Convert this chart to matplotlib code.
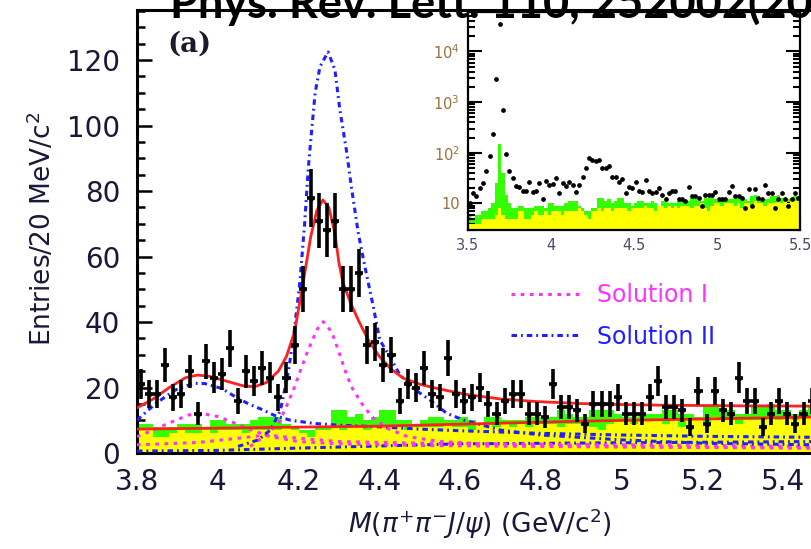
import numpy as np
import matplotlib.pyplot as plt
from matplotlib.ticker import MultipleLocator, FixedLocator, FixedFormatter, LogLocator, NullFormatter

plt.rcParams['mathtext.fontset'] = 'dejavusans'

# 20 MeV/c^2 bins between 3.5 and 5.5 GeV/c^2
edges = np.round(np.arange(3.50, 5.5001, 0.02), 2)
centers = np.round(0.5 * (edges[:-1] + edges[1:]), 2)

# data, entries per bin
entries = [10, 16, 14, 20, 25, 44, 87, 230, 2900, 35000, 700, 94, 44, 32, 22,
           21, 18, 18, 27, 17, 18, 25, 12, 28, 23,
           24, 32, 16, 25, 22, 26, 23, 17, 23, 33,
           50, 78, 71, 68, 71, 50, 50, 55, 33, 34,
           27, 30, 16, 21, 20, 26, 18, 17, 29, 18,
           16, 17, 20, 15, 12, 16, 18, 18, 12, 12,
           11, 21, 14, 14, 13, 9, 15, 15, 15, 17,
           12, 12, 12, 17, 22, 14, 14, 13, 8, 19,
           9, 19, 13, 12, 23, 16, 16, 8, 12, 16,
           12, 9, 12, 16, 13]

# J/psi sideband (green) and the second background estimate (yellow)
sideband = [6, 5, 6, 6, 7, 7, 8, 10, 25, 150, 40, 15, 10, 8, 8,
            9, 9, 8, 8, 8, 9, 9, 9, 8, 10,
            10, 9, 9, 9, 10, 11, 11, 11, 9, 8,
            7, 7, 8, 8, 13, 13, 11, 12, 10, 11,
            13, 13, 10, 10, 9, 10, 11, 11, 10, 10,
            11, 10, 9, 11, 11, 10, 10, 10, 11, 11,
            11, 11, 13, 12, 11, 11, 13, 13, 13, 12,
            11, 11, 12, 12, 12, 13, 13, 12, 12, 11,
            14, 15, 13, 13, 12, 12, 14, 14, 15, 13,
            13, 12, 13, 14, 14]
other_bkg = [4, 4, 4, 4, 5, 5, 5, 5, 6, 8, 6, 5, 5, 5, 5,
             7, 7, 5, 5, 6, 7, 6, 6, 7, 6,
             7, 7, 7, 6, 7, 7, 7, 7, 8, 7,
             6, 5, 7, 7, 8, 7, 8, 8, 7, 8,
             8, 8, 8, 7, 8, 8, 8, 8, 9, 8,
             8, 7, 9, 9, 8, 9, 8, 9, 8, 9,
             9, 9, 8, 9, 9, 10, 8, 7, 9, 10,
             10, 9, 10, 10, 10, 9, 10, 8, 10, 10,
             9, 11, 10, 10, 9, 10, 10, 10, 11, 10,
             11, 10, 11, 11, 11]

# fit curves
fit_x = [3.80, 3.84, 3.88, 3.92, 3.95, 3.98, 4.02, 4.06, 4.09, 4.12, 4.15, 4.17, 4.19,
         4.21, 4.23, 4.245, 4.26, 4.275, 4.29, 4.30, 4.31, 4.33, 4.35, 4.375, 4.40, 4.43,
         4.46, 4.50, 4.55, 4.62, 4.70, 4.79, 4.90, 5.00, 5.10, 5.20, 5.30, 5.48]
fit_y = [13.8, 16.5, 20.0, 23.0, 23.8, 23.4, 22.0, 20.6, 20.2, 21.5, 25.0, 29.5, 37.0,
         51.0, 66.0, 74.0, 77.3, 75.0, 67.0, 58.0, 52.0, 45.5, 40.0, 34.0, 29.5, 25.5,
         22.8, 21.0, 19.5, 17.8, 16.5, 15.7, 15.1, 14.8, 14.6, 14.5, 14.4, 14.3]
bkg_x = [3.80, 4.40, 4.93, 5.48]
bkg_y = [7.3, 8.2, 9.8, 11.0]

# Solution I components
sol1_peak_x = [4.08, 4.125, 4.15, 4.166, 4.187, 4.208, 4.224, 4.245, 4.261, 4.282, 4.298,
               4.315, 4.331, 4.356, 4.381, 4.42, 4.47, 4.55, 4.70, 5.00, 5.48]
sol1_peak_y = [2.0, 6.0, 9.1, 13.1, 19.2, 26.4, 31.5, 37.6, 40.1, 37.0, 31.5,
               25.3, 20.2, 15.2, 11.1, 7.5, 5.0, 3.5, 2.5, 2.0, 1.5]
sol1_low_x = [3.80, 3.84, 3.878, 3.927, 3.96, 4.001, 4.043, 4.084, 4.13, 4.20, 4.30, 4.50, 5.00, 5.48]
sol1_low_y = [5.0, 7.0, 9.1, 11.6, 12.1, 11.1, 9.1, 7.0, 5.0, 3.5, 2.8, 2.3, 1.8, 1.5]
sol1_int_x = [3.80, 3.95, 4.05, 4.12, 4.20, 4.30, 4.50, 5.00, 5.48]
sol1_int_y = [2.5, 3.2, 4.5, 5.5, 4.5, 3.5, 3.0, 2.5, 2.0]

# Solution II components
sol2_peak_x = [4.05, 4.10, 4.13, 4.155, 4.175, 4.19, 4.203, 4.215, 4.224, 4.232, 4.241,
               4.253, 4.273, 4.29, 4.302, 4.319, 4.331, 4.348, 4.364, 4.385, 4.401, 4.426,
               4.451, 4.484, 4.525, 4.567, 4.608, 4.70, 4.80, 5.00, 5.20, 5.48]
sol2_peak_y = [2.0, 4.0, 7.0, 13.0, 25.0, 38.0, 52.0, 70.0, 87.0, 98.0, 110.0,
               118.0, 122.5, 117.0, 105.0, 92.0, 81.0, 67.0, 57.0, 44.7, 34.5, 29.4,
               23.8, 19.7, 16.2, 12.1, 10.1, 7.0, 5.5, 4.0, 3.0, 2.5]
sol2_low_x = [3.80, 3.845, 3.894, 3.94, 3.968, 4.01, 4.043, 4.076, 4.109, 4.14, 4.18,
              4.24, 4.30, 4.40, 4.50, 4.60, 4.80, 5.00, 5.20, 5.48]
sol2_low_y = [10.0, 15.0, 19.2, 21.3, 21.2, 19.7, 17.2, 15.0, 13.3, 11.5, 10.0,
              9.0, 8.5, 8.0, 7.3, 6.8, 6.0, 5.5, 5.1, 4.8]
sol2_int_x = [3.80, 4.00, 4.20, 4.60, 5.48]
sol2_int_y = [0.6, 0.8, 1.5, 2.8, 3.5]

RED = '#ff2020'
BLUE = '#2020ff'
MAGENTA = '#ff30ff'
GREEN = '#33ff00'
YELLOW = '#ffff00'
LABEL = '#181838'

dot = (0, (1.2, 1.8))
dashdot = (0, (1.8, 1.3, 0.6, 1.3))

fig = plt.figure(figsize=(8.12, 5.49), dpi=100)
ax = fig.add_axes([137 / 812, 96 / 549, 675 / 812, 443 / 549])

ax.stairs(sideband, edges, fill=True, color=GREEN, zorder=1)
ax.stairs(other_bkg, edges, fill=True, color=YELLOW, zorder=2)

ax.plot(sol2_int_x, sol2_int_y, color=BLUE, lw=2.2, ls=dashdot, zorder=3)
ax.plot(sol1_int_x, sol1_int_y, color=MAGENTA, lw=2.2, ls=dot, zorder=3)
ax.plot(sol2_low_x, sol2_low_y, color=BLUE, lw=2.2, ls=dashdot, zorder=3)
ax.plot(sol1_low_x, sol1_low_y, color=MAGENTA, lw=2.2, ls=dot, zorder=3)
l1, = ax.plot(sol1_peak_x, sol1_peak_y, color=MAGENTA, lw=2.2, ls=dot, zorder=3,
              label='Solution I')
l2, = ax.plot(sol2_peak_x, sol2_peak_y, color=BLUE, lw=2.2, ls=dashdot, zorder=3,
              label='Solution II')
ax.plot(bkg_x, bkg_y, color=RED, lw=2.0, zorder=4)
ax.plot(fit_x, fit_y, color=RED, lw=2.0, zorder=4)

ax.errorbar(centers, entries, yerr=np.sqrt(entries), xerr=0.01, fmt='o', color='black',
            ms=3, elinewidth=2.6, capsize=0, zorder=5)

ax.set_xlim(3.8, 5.471)
ax.set_ylim(0, 135.3)
ax.spines['right'].set_visible(False)
for s in ['left', 'bottom', 'top']:
    ax.spines[s].set_linewidth(2.2)
ax.xaxis.set_major_locator(FixedLocator([3.8, 4.0, 4.2, 4.4, 4.6, 4.8, 5.0, 5.2, 5.4]))
ax.xaxis.set_major_formatter(FixedFormatter(['3.8', '4', '4.2', '4.4', '4.6', '4.8', '5', '5.2', '5.4']))
ax.xaxis.set_minor_locator(MultipleLocator(0.05))
ax.yaxis.set_major_locator(MultipleLocator(20))
ax.yaxis.set_minor_locator(MultipleLocator(5))
ax.tick_params(which='both', direction='in', width=1.8, labelsize=20, labelcolor=LABEL)
ax.tick_params(which='major', length=11)
ax.tick_params(which='minor', length=6)
ax.tick_params(axis='y', pad=12)
ax.tick_params(axis='x', pad=11)

fig.text(42 / 812, 1 - 229 / 549, 'Entries/20 MeV/c$^2$', rotation=90, fontsize=19,
         color=LABEL, ha='center', va='center')
fig.text(480 / 812, 1 - 524 / 549, r'$M(\pi^{+}\pi^{-}J/\psi)$ (GeV/c$^2$)', fontsize=19,
         color=LABEL, ha='center', va='center')
fig.text(167 / 812, 1 - 44 / 549, '(a)', fontsize=20, fontweight='bold',
         family='DejaVu Serif', color='#1a1a2a', ha='left', va='center')

leg = ax.legend(handles=[l1, l2], loc='upper left', frameon=False, fontsize=17,
                handlelength=2.9, handletextpad=0.75, labelspacing=0.75,
                borderpad=0, borderaxespad=0, labelcolor='linecolor',
                bbox_to_anchor=(511 / 812, 1 - 283 / 549), bbox_transform=fig.transFigure)

# inset: same spectrum on a log scale over the wider range
ins = fig.add_axes([468 / 812, 319 / 549, 332 / 812, 218 / 549])
ins.stairs(sideband, edges, fill=True, color=GREEN, baseline=0.1, zorder=1)
ins.stairs(other_bkg, edges, fill=True, color=YELLOW, baseline=0.1, zorder=2)
ins.plot(centers, entries, 'o', color='black', ms=2.4, zorder=3)
ins.set_yscale('log')
ins.set_xlim(3.5, 5.5)
ins.set_ylim(3, 6e4)
for s in ins.spines.values():
    s.set_linewidth(1.6)
ins.xaxis.set_major_locator(FixedLocator([3.5, 4.0, 4.5, 5.0, 5.5]))
ins.xaxis.set_major_formatter(FixedFormatter(['3.5', '4', '4.5', '5', '5.5']))
ins.xaxis.set_minor_locator(MultipleLocator(0.1))
ins.yaxis.set_major_locator(FixedLocator([10, 100, 1000, 10000]))
ins.yaxis.set_major_formatter(FixedFormatter(['10', '$10^2$', '$10^3$', '$10^4$']))
ins.yaxis.set_minor_locator(LogLocator(base=10, subs=np.arange(2, 10)))
ins.yaxis.set_minor_formatter(NullFormatter())
ins.tick_params(which='both', direction='in', right=True, width=1.5)
ins.tick_params(which='major', length=10)
ins.tick_params(which='minor', length=5)
ins.tick_params(axis='y', labelsize=10.5, labelcolor='#9a7040', pad=6)
ins.tick_params(axis='x', labelsize=10.5, labelcolor='#4a4a6a', pad=6)

# journal reference across the top edge
fig.text(170 / 812, 1 - 18 / 549, 'Phys. Rev. Lett. 110, 252002(2013)', fontsize=32.5,
         fontweight='bold', family='Lato', color='black', ha='left', va='baseline', zorder=10)

fig.savefig('out.png', dpi=100)
